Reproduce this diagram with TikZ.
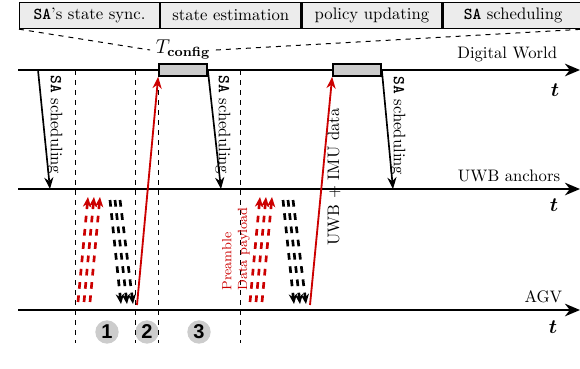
\documentclass[tikz,border=0pt]{standalone}
\usepackage{amsmath,amssymb}
\usepackage{xcolor}
\usepackage{fontspec}
\newfontfamily\numfont{Liberation Sans}
\usetikzlibrary{positioning, calc, arrows.meta}
\definecolor{sigred}{RGB}{204,0,0}
\tikzset{
  timeline/.style={line width=1.6pt, -{Stealth[length=9pt, width=7.5pt]}},
  phasebox/.style={draw, line width=0.7pt, fill=gray!15, minimum width=84pt, minimum height=15.6pt, inner sep=0pt},
  cfgbox/.style={draw, line width=1pt, fill=gray!40, minimum width=28.8pt, minimum height=7.2pt, inner sep=0pt},
  phaseline/.style={dashed, semithick},
  schedarrow/.style={line width=1pt, -{Stealth[length=7pt, width=5.5pt]}},
  uplink/.style={sigred, line width=1.1pt, -{Stealth[length=7pt, width=5.5pt]}},
  pktpre/.style={sigred, line width=1.6pt, dash pattern=on 4pt off 4pt, -{Stealth[length=6pt, width=5pt]}},
  pktdata/.style={black, line width=1.6pt, dash pattern=on 4pt off 4pt, -{Stealth[length=6pt, width=5pt]}},
  phasenum/.style={circle, fill=gray!40, minimum size=14pt, inner sep=0pt, font=\numfont\bfseries\large},
  tlabel/.style={font=\large}
}

\begin{document}
\begin{tikzpicture}[x=0.6pt, y=-0.6pt, >=Stealth]
    \useasboundingbox (0,0) rectangle (580,368);

    % Phase boxes of T_config
    \node[phasebox, anchor=north west] (sync) at (19,2) {\textbf{\texttt{SA}}'s state sync.};
    \node[phasebox, right=0pt of sync] (est) {state estimation};
    \node[phasebox, right=0pt of est] (pol) {policy updating};
    \node[phasebox, right=0pt of pol] (sched) {\textbf{\texttt{SA}} scheduling};

    % Draw timelines
    \coordinate (dwL) at (18,70);   \coordinate (dwR) at (580,70);
    \coordinate (uwbL) at (18,189); \coordinate (uwbR) at (580,189);
    \coordinate (agvL) at (18,310); \coordinate (agvR) at (580,310);
    \draw[timeline] (dwL) -- (dwR);
    \draw[timeline] (uwbL) -- (uwbR);
    \draw[timeline] (agvL) -- (agvR);

    \node[anchor=east] (dwlbl) at (563,54) {Digital World};
    \node[anchor=east] (uwblbl) at (566,176) {UWB anchors};
    \node[anchor=east] (agvlbl) at (568,297) {AGV};
    \node[tlabel] (dwt) at (555,90) {$\boldsymbol{t}$};
    \node[tlabel] (uwbt) at (554,205) {$\boldsymbol{t}$};
    \node[tlabel] (agvt) at (553,327) {$\boldsymbol{t}$};

    % Config boxes on the digital world
    \node[cfgbox] (cfgA) at (183,70) {};
    \node[cfgbox] (cfgB) at (357,70) {};

    \node (tcfg) at (183,50) {\large $T_{\textbf{config}}$};
    \draw[dashed, semithick] (sync.south west) -- (tcfg.west);
    \draw[dashed, semithick] (tcfg.east) -- (sched.south east);

    % Phase numbers
    \node[phasenum] (ph1) at (107,332) {1};
    \node[phasenum] (ph2) at (147,332) {2};
    \node[phasenum] (ph3) at (199,332) {3};

    % Phase borders
    \foreach \x [count=\k] in {75,135,158,240} {
        \coordinate (vt\k) at (\x,70);
        \coordinate (vb\k) at (\x,343);
        \draw[phaseline] (vt\k) -- (vb\k);
    }

    % SA scheduling
    \coordinate (schA) at (38,70);
    \coordinate (schAe) at (50,189);
    \coordinate (schBe) at (221,189);
    \coordinate (schCe) at (393,189);
    \draw[schedarrow] (schA) -- (schAe);
    \draw[schedarrow] (cfgA.east) -- (schBe);
    \draw[schedarrow] (cfgB.east) -- (schCe);
    \node[rotate=-90] (schlblA) at (55,125) {\textbf{\texttt{SA}} scheduling};
    \node[rotate=-90] (schlblB) at (223,125) {\textbf{\texttt{SA}} scheduling};
    \node[rotate=-90] (schlblC) at (398,126) {\textbf{\texttt{SA}} scheduling};

    % UWB packets: preamble up, data payload down
    \foreach \g/\xr/\xb in {a/78/110, b/250/283} {
        \foreach \i in {0,1,2} {
            \coordinate (pre\g\i) at ({\xr+6*\i},302);
            \coordinate (pre\g\i t) at ({\xr+10+6*\i},197);
            \coordinate (dat\g\i) at ({\xb+5*\i},200);
            \coordinate (dat\g\i t) at ({\xb+11+6*\i},304);
            \draw[pktpre] (pre\g\i) -- (pre\g\i t);
            \draw[pktdata] (dat\g\i) -- (dat\g\i t);
        }
    }
    \node[rotate=90, align=left, text=sigred, font=\footnotesize] (pktlbl) at (236,249) {Preamble\\Data payload};

    % Uplink to the digital world
    \coordinate (upA) at (137,305);
    \coordinate (upB) at (310,305);
    \draw[uplink] (upA) -- (cfgA.south west);
    \draw[uplink] (upB) -- (cfgB.south west);
    \node[rotate=90] (imulbl) at (334,177) {UWB + IMU data};

\end{tikzpicture}
\end{document}
